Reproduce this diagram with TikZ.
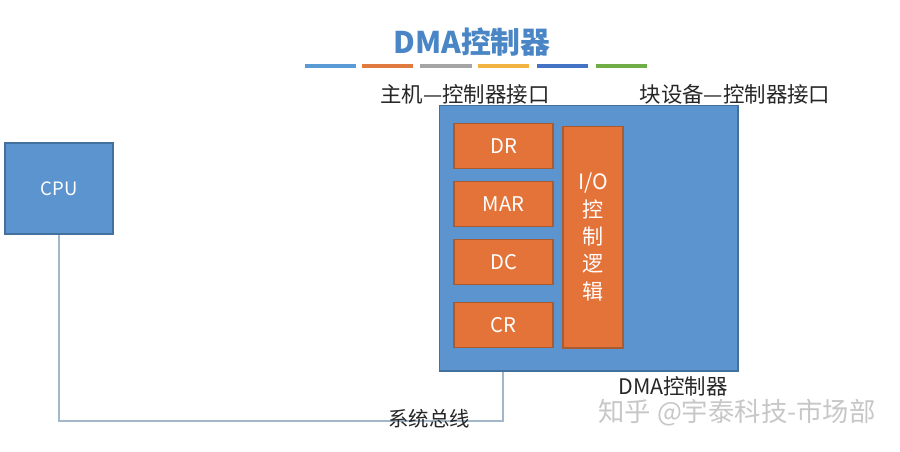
\documentclass[tikz,border=0pt]{standalone}
\usepackage{fontspec}
\setmainfont{Noto Sans CJK SC}
\usetikzlibrary{positioning}

\definecolor{boxblue}{HTML}{5B94CE}
\definecolor{blueedge}{HTML}{41719C}
\definecolor{boxorange}{HTML}{E4733A}
\definecolor{orangeedge}{HTML}{A85A30}
\definecolor{titleblue}{HTML}{4A86C5}
\definecolor{busgray}{HTML}{A3B7CB}

\begin{document}
\begin{tikzpicture}[
        x=0.02cm, y=-0.02cm,
        blk/.style={
            draw=blueedge, fill=boxblue, line width=0.6pt,
            inner sep=0pt, text=white
        },
        reg/.style={
            draw=orangeedge, fill=boxorange, line width=0.6pt,
            minimum width=1.98cm, minimum height=0.9cm, inner sep=0pt,
            text=white, font=\fontsize{11.5}{13}\selectfont
        },
        lbl/.style={font=\fontsize{12.2}{14}\selectfont, text=black!85},
        bus/.style={draw=busgray, line width=0.9pt}
    ]
    \useasboundingbox (0,0) rectangle (900,451);

    % titre et barres
    \node[font=\fontsize{17}{20}\selectfont\bfseries, text=titleblue] (title) at (472,42) {DMA控制器};
    \foreach \xa/\xb/\col in {305/356/5B9BD5, 362/413/E07A3F, 420/472/A5A5A5,
                              478/529/F2B441, 537/588/4472C4, 596/647/70AD47}{
        \definecolor{barcol}{HTML}{\col}
        \draw[barcol, line width=2.4pt] (\xa,66) -- (\xb,66);
    }

    % blocs
    \node[blk, minimum width=2.16cm, minimum height=1.82cm,
          font=\fontsize{10.5}{12}\selectfont] (cpu) at (59,188.5) {CPU};
    \node[blk, minimum width=5.98cm, minimum height=5.32cm] (dma) at (588.5,238) {};

    \node[reg] (dr) at (503.5,146) {DR};
    \node[reg, below=0.24cm of dr] (mar) {MAR};
    \node[reg, below=0.24cm of mar] (dc) {DC};
    \node[reg, below=0.34cm of dc] (cr) {CR};
    \node[reg, minimum width=1.2cm, minimum height=4.44cm, align=center,
          font=\fontsize{12}{15.6}\selectfont] (ioc) at (593,237) {I/O\\控\\制\\逻\\辑};

    % bus systeme
    \coordinate (bj) at (503,421);
    \draw[bus] (cpu.south) |- (bj) -- (bj |- dma.south);

    % textes
    \node[lbl] (hostif) at (465,94) {主机—控制器接口};
    \node[lbl] (devif) at (735,94) {块设备—控制器接口};
    \node[lbl] (dmalbl) at (673,386) {DMA控制器};
    \node[lbl, font=\fontsize{11.6}{14}\selectfont] (buslbl) at (429,419) {系统总线};
    \node[font=\fontsize{15}{18}\selectfont, text=black!22] (mark) at (737,413) {知乎 @宇泰科技-市场部};
\end{tikzpicture}
\end{document}
